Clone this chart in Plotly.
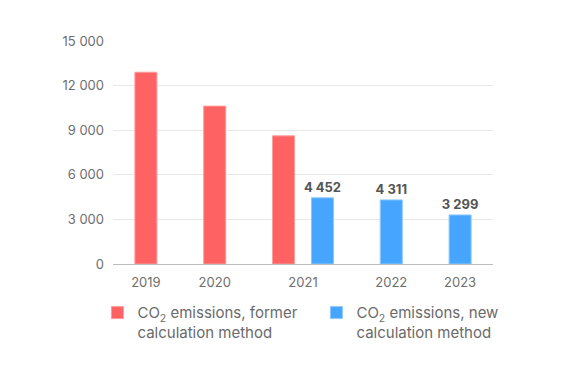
import plotly.graph_objects as go

years_former = [2019, 2020, 2021]
values_former = [12900, 10620, 8620]
years_new = [2021, 2022, 2023]
values_new = [4452, 4311, 3299]
name_former = "CO<sub>2</sub> emissions, former<br>calculation method"
name_new = "CO<sub>2</sub> emissions, new<br>calculation method"
year_labels = [2019, 2020, 2021, 2022, 2023]

RED = "#FF6262"
BLUE = "#46A5FF"
BAR_W = 0.32
SHIFT = 0.283

fig = go.Figure()
fig.add_trace(go.Bar(
    x=years_former, y=values_former, name=name_former,
    width=BAR_W, offset=-SHIFT - BAR_W / 2,
    marker=dict(color=RED, line=dict(color="#FF9C9C", width=1)),
    hoverinfo="skip",
))
fig.add_trace(go.Bar(
    x=years_new, y=values_new, name=name_new,
    width=BAR_W, offset=SHIFT - BAR_W / 2,
    marker=dict(color=BLUE, line=dict(color="#8CC8FF", width=1)),
    texttemplate="%{y:,d}", textposition="outside", cliponaxis=False,
    constraintext="none",
    textfont=dict(family="Inter", size=13, color="#555555", weight="bold"),
    hoverinfo="skip",
))

# tick positions: centre of the bars belonging to each year
tickvals = []
for yr in year_labels:
    centers = []
    if yr in years_former:
        centers.append(yr - SHIFT)
    if yr in years_new:
        centers.append(yr + SHIFT)
    tickvals.append(sum(centers) / len(centers))

# the page body has an 8px margin, so the figure is drawn 8px in
fig.update_layout(
    width=559, height=363,
    margin=dict(l=105, r=74, t=33, b=107, autoexpand=False),
    paper_bgcolor="white", plot_bgcolor="white",
    separators=". ",
    barmode="overlay",
    font=dict(family="Inter", size=13, color="#6E6E6E"),
    showlegend=True,
    legend=dict(
        orientation="h", x=-0.041, xanchor="left", y=-0.145, yanchor="top",
        font=dict(family="Inter", size=15, color="#6A6A6A"),
        valign="top", itemwidth=30, traceorder="normal",
        entrywidth=174, entrywidthmode="pixels",
        itemclick=False, itemdoubleclick=False,
    ),
    xaxis=dict(
        range=[year_labels[0] - SHIFT - 0.478, year_labels[-1] + SHIFT + 0.478],
        tickmode="array", tickvals=tickvals, ticktext=[str(y) for y in year_labels],
        showgrid=False, zeroline=False,
        showline=True, linecolor="#BDBDBD", linewidth=1,
        ticks="", ticklabelstandoff=6,
        tickfont=dict(family="Inter", size=13, color="#6E6E6E"),
        fixedrange=True,
    ),
    yaxis=dict(
        range=[0, 15000], dtick=3000, tickformat=",d",
        showgrid=True, gridcolor="#E8E8E8", gridwidth=1,
        zeroline=False, showline=False, ticks="",
        ticklabelstandoff=8,
        tickfont=dict(family="Inter", size=13, color="#6E6E6E"),
        fixedrange=True,
    ),
)

fig.write_html("out.html")
